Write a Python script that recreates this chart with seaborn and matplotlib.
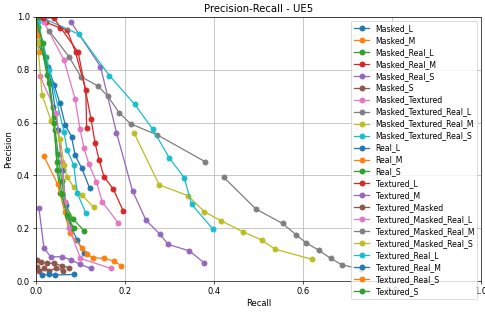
import matplotlib
matplotlib.use("Agg")
import matplotlib.pyplot as plt
import seaborn as sns
import pandas as pd

# recall / precision points, one pair of lists per model
series_names = [
    "Masked_L", "Masked_M", "Masked_Real_L", "Masked_Real_M", "Masked_Real_S",
    "Masked_S", "Masked_Textured", "Masked_Textured_Real_L", "Masked_Textured_Real_M",
    "Masked_Textured_Real_S", "Real_L", "Real_M", "Real_S", "Textured_L", "Textured_M",
    "Textured_Masked", "Textured_Masked_Real_L", "Textured_Masked_Real_M",
    "Textured_Masked_Real_S", "Textured_Real_L", "Textured_Real_M", "Textured_Real_S",
    "Textured_S",
]

masked_l_r = [0.005, 0.028, 0.028, 0.041, 0.054, 0.066, 0.080, 0.088, 0.103, 0.121]
masked_l_p = [0.900, 0.843, 0.777, 0.742, 0.673, 0.591, 0.547, 0.477, 0.427, 0.351]
masked_m_r = [0.000, 0.007]
masked_m_p = [1.000, 0.866]
masked_real_l_r = [0.003, 0.022, 0.038, 0.042, 0.048, 0.054, 0.083, 0.108]
masked_real_l_p = [0.990, 0.850, 0.660, 0.572, 0.420, 0.332, 0.236, 0.191]
masked_real_m_r = [0.005, 0.022, 0.055, 0.070, 0.089, 0.112, 0.114]
masked_real_m_p = [0.999, 0.980, 0.958, 0.951, 0.866, 0.723, 0.580]
masked_real_s_r = [0.079, 0.145, 0.181, 0.217, 0.247, 0.279, 0.297, 0.345, 0.378]
masked_real_s_p = [0.980, 0.812, 0.562, 0.342, 0.231, 0.177, 0.139, 0.114, 0.069]
masked_s_r = [0.003, 0.012, 0.025, 0.040, 0.058, 0.075]
masked_s_p = [0.080, 0.072, 0.068, 0.067, 0.058, 0.050]
masked_tex_r = [0.018, 0.063, 0.088, 0.099, 0.108, 0.119, 0.136, 0.149, 0.185]
masked_tex_p = [0.980, 0.837, 0.690, 0.576, 0.503, 0.443, 0.376, 0.300, 0.220]
mtr_l_r = [0.030, 0.074, 0.101, 0.139, 0.161, 0.187, 0.213, 0.273, 0.380]
mtr_l_p = [0.947, 0.850, 0.774, 0.739, 0.701, 0.637, 0.595, 0.553, 0.452]
mtr_m_r = [0.221, 0.277, 0.342, 0.378, 0.416, 0.465, 0.507, 0.537, 0.621]
mtr_m_p = [0.559, 0.364, 0.323, 0.263, 0.228, 0.187, 0.155, 0.121, 0.082]
mtr_s_r = [0.016, 0.097, 0.165, 0.222, 0.262, 0.300, 0.333, 0.350, 0.398]
mtr_s_p = [0.995, 0.934, 0.778, 0.669, 0.576, 0.465, 0.392, 0.290, 0.196]
real_l_r = [0.010, 0.035, 0.050, 0.060, 0.067, 0.080, 0.093, 0.108]
real_l_p = [0.900, 0.750, 0.570, 0.420, 0.288, 0.200, 0.155, 0.105]
real_m_r = [0.018, 0.049, 0.065, 0.076, 0.104, 0.115, 0.129, 0.154, 0.175, 0.192]
real_m_p = [0.473, 0.366, 0.260, 0.181, 0.126, 0.101, 0.088, 0.086, 0.076, 0.058]
real_s_r = [0.004, 0.025, 0.040, 0.050, 0.058, 0.065, 0.072, 0.080]
real_s_p = [0.960, 0.780, 0.620, 0.480, 0.380, 0.300, 0.240, 0.200]
tex_l_r = [0.016, 0.040, 0.095, 0.124, 0.133, 0.142, 0.153, 0.174, 0.196]
tex_l_p = [0.996, 0.996, 0.866, 0.612, 0.522, 0.458, 0.395, 0.348, 0.266]
tex_m_r = [0.007, 0.018, 0.033, 0.059, 0.079, 0.100, 0.123]
tex_m_p = [0.275, 0.126, 0.092, 0.092, 0.080, 0.063, 0.048]
tex_masked_r = [0.002, 0.008, 0.018, 0.030, 0.045, 0.060]
tex_masked_p = [0.055, 0.040, 0.048, 0.040, 0.048, 0.040]
tmr_l_r = [0.009, 0.046, 0.058, 0.066, 0.075, 0.100, 0.168]
tmr_l_p = [0.778, 0.635, 0.450, 0.300, 0.200, 0.086, 0.048]
tmr_m_r = [0.422, 0.494, 0.554, 0.584, 0.607, 0.636, 0.662, 0.687, 0.730]
tmr_m_p = [0.393, 0.273, 0.218, 0.176, 0.145, 0.116, 0.086, 0.062, 0.045]
tmr_s_r = [0.004, 0.014, 0.034, 0.055, 0.063, 0.070, 0.085, 0.103, 0.130]
tmr_s_p = [0.900, 0.705, 0.607, 0.537, 0.439, 0.395, 0.355, 0.326, 0.279]
tex_real_l_r = [0.005, 0.030, 0.063, 0.070, 0.085, 0.093, 0.112]
tex_real_l_p = [0.980, 0.800, 0.566, 0.497, 0.439, 0.332, 0.259]
tex_real_m_r = [0.014, 0.029, 0.044, 0.085]
tex_real_m_p = [0.023, 0.025, 0.023, 0.025]
tex_real_s_r = [0.000, 0.004]
tex_real_s_p = [1.000, 0.930]
tex_s_r = [0.000, 0.015, 0.030, 0.040, 0.048, 0.058, 0.070, 0.085]
tex_s_p = [1.000, 0.900, 0.750, 0.600, 0.450, 0.330, 0.250, 0.200]

recalls = [masked_l_r, masked_m_r, masked_real_l_r, masked_real_m_r, masked_real_s_r,
           masked_s_r, masked_tex_r, mtr_l_r, mtr_m_r, mtr_s_r, real_l_r, real_m_r,
           real_s_r, tex_l_r, tex_m_r, tex_masked_r, tmr_l_r, tmr_m_r, tmr_s_r,
           tex_real_l_r, tex_real_m_r, tex_real_s_r, tex_s_r]
precisions = [masked_l_p, masked_m_p, masked_real_l_p, masked_real_m_p, masked_real_s_p,
              masked_s_p, masked_tex_p, mtr_l_p, mtr_m_p, mtr_s_p, real_l_p, real_m_p,
              real_s_p, tex_l_p, tex_m_p, tex_masked_p, tmr_l_p, tmr_m_p, tmr_s_p,
              tex_real_l_p, tex_real_m_p, tex_real_s_p, tex_s_p]

palette = sns.color_palette("tab10", 10)

fig, ax = plt.subplots(figsize=(8, 5.163), dpi=60.625)
fig.subplots_adjust(left=0.074, right=0.992, bottom=0.102, top=0.946)

for i, name in enumerate(series_names):
    df = pd.DataFrame({"Recall": recalls[i], "Precision": precisions[i]})
    c = palette[i % 10]
    sns.lineplot(data=df, x="Recall", y="Precision", ax=ax, sort=False,
                 color=c, marker="o", markersize=6, markeredgecolor=c,
                 markeredgewidth=1, linewidth=1.5, label=name)

ax.set_xlim(0, 1)
ax.set_ylim(0, 1)
ax.grid(True)
ax.set_title("Precision-Recall - UE5")
ax.set_xlabel("Recall")
ax.set_ylabel("Precision")
ax.legend(loc="upper right", fontsize=9.2, labelspacing=0.38)

fig.savefig("out.png", dpi=60.625)
